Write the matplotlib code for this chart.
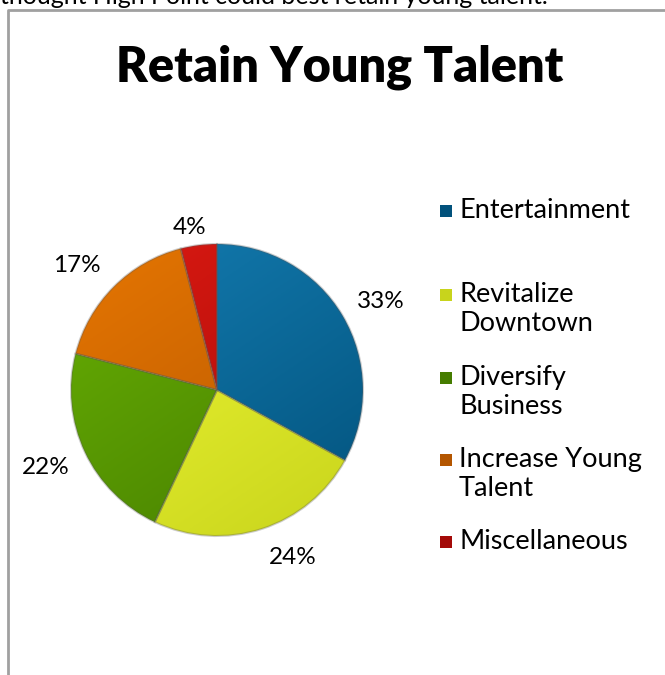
import numpy as np
import matplotlib
matplotlib.use("Agg")
import matplotlib.pyplot as plt
from matplotlib.colors import LinearSegmentedColormap
from matplotlib.patches import Rectangle

# Survey answers
categories = ["Entertainment", "Revitalize\nDowntown", "Diversify\nBusiness",
              "Increase Young\nTalent", "Miscellaneous"]
shares = [33, 24, 22, 17, 4]
pct_labels = ["33%", "24%", "22%", "17%", "4%"]

# light -> dark shade for each slice
light = ["#147db2", "#f0f835", "#68b004", "#e67602", "#dc1a12"]
dark = ["#02527c", "#c8d41c", "#457c00", "#b45600", "#a40a08"]

W, H = 665, 675
FONT = "Lato"

fig = plt.figure(figsize=(W / 100, H / 100), dpi=100)
ax = fig.add_axes([0, 0, 1, 1])

cx, cy, r = 217, H - 390, 146
wedges, _ = ax.pie(shares, startangle=90, counterclock=False,
                   center=(cx, cy), radius=r,
                   wedgeprops=dict(linewidth=0))

# gradient fill clipped to each wedge: light at top-left, dark at bottom-right
yy, xx = np.mgrid[0:1:200j, 0:1:200j]
grad = 0.6 * yy + 0.4 * xx
for w, c0, c1 in zip(wedges, light, dark):
    w.set_facecolor("none")
    cmap = LinearSegmentedColormap.from_list("s", [c0, c1])
    im = ax.imshow(grad, cmap=cmap, extent=(cx - r, cx + r, cy - r, cy + r),
                   origin="upper", interpolation="bilinear", zorder=1)
    im.set_clip_path(w)
    w.set_edgecolor((0.35, 0.35, 0.35, 0.3))
    w.set_linewidth(1.5)
    w.set_zorder(2)

ax.set_xlim(0, W)
ax.set_ylim(0, H)
ax.set_aspect("equal")
ax.axis("off")

# percentage labels around the pie
label_pos = [(381, 302), (293, 557), (46, 467), (77, 265), (190, 228)]
for txt, (x, y) in zip(pct_labels, label_pos):
    ax.text(x, H - y, txt, fontsize=17.5, family=FONT, ha="center", va="center")

# legend: marker beside the first line of each entry
legend_y = [211, 295, 378, 460, 542]
for name, c0, c1, y in zip(categories, light, dark, legend_y):
    ax.add_patch(Rectangle((440, H - y - 6), 12, 12, facecolor=c1,
                           edgecolor="none"))
    ax.text(459, H - y + 13, name, fontsize=19.5, family=FONT,
            ha="left", va="top", linespacing=1.2)

# title
ax.text(340, H - 67, "Retain Young Talent", fontsize=35, fontweight="heavy",
        family=FONT, ha="center", va="center")

# frame around the chart and the heading above it
ax.plot([8, 8, W], [0, H - 10, H - 10], color="#a0a0a0", lw=2,
        solid_capstyle="butt")
ax.text(0, H - 4, "thought High Point could best retain young talent.",
        fontsize=18, family=FONT, ha="left", va="baseline")

fig.savefig("out.png", dpi=100)
